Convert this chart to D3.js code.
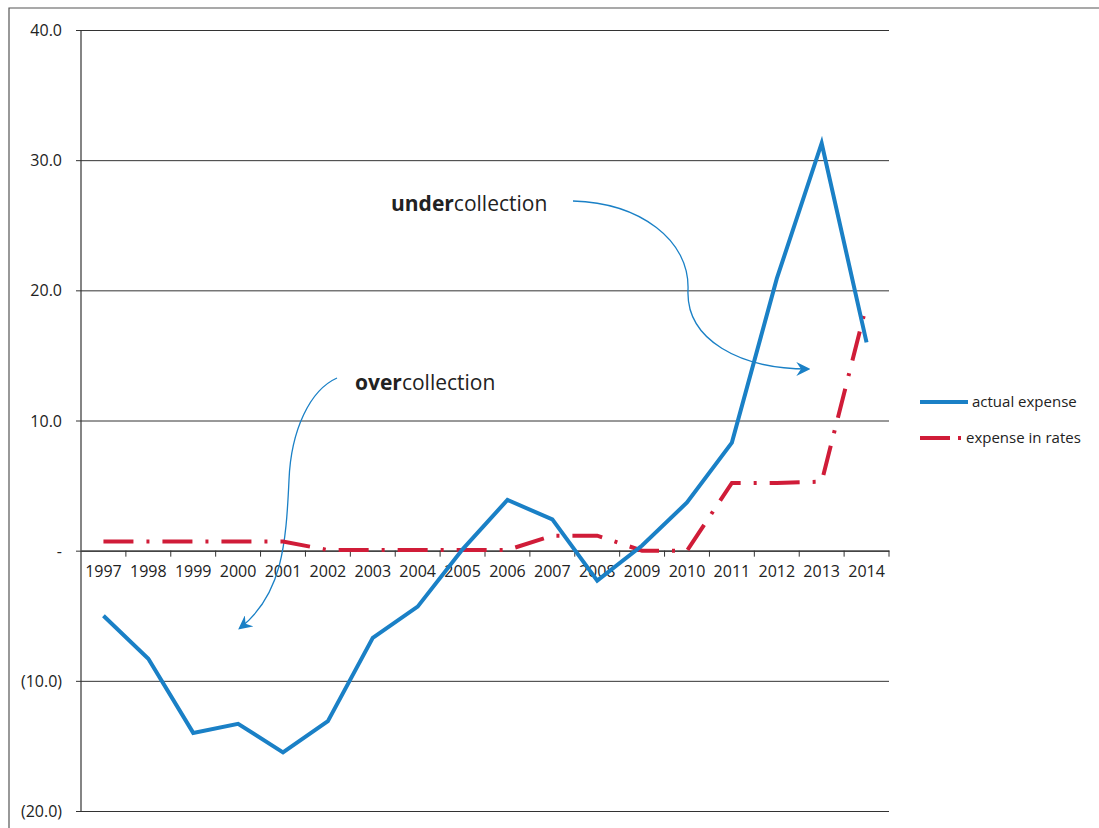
<!DOCTYPE html>
<html>
<head>
<meta charset="utf-8">
<script src="https://d3js.org/d3.v7.min.js"></script>
<style>
  body { margin: 0; background: #fff; }
  text { font-family: "Open Sans", "Liberation Sans", sans-serif; fill: #222; }
</style>
</head>
<body>
<svg id="chart" width="1099" height="828"></svg>
<script>
// data
var years = ["1997","1998","1999","2000","2001","2002","2003","2004","2005",
             "2006","2007","2008","2009","2010","2011","2012","2013","2014"];
var actualExpense = [-5.0, -8.3, -14.0, -13.3, -15.5, -13.1, -6.7, -4.3, 0.1,
                     3.9, 2.4, -2.3, 0.4, 3.7, 8.3, 20.9, 31.3, 16.0];
var expenseInRates = [0.7, 0.7, 0.7, 0.7, 0.7, 0.05, 0.05, 0.05, 0.05,
                      0.05, 1.15, 1.15, 0.0, 0.0, 5.2, 5.2, 5.3, 18.9];
var yTicks = [40, 30, 20, 10, 0, -10, -20];

var svg = d3.select("#chart");

var x = d3.scaleBand().domain(years).range([81, 889]);
var y = d3.scaleLinear().domain([-20, 40]).range([811, 30]);

// outer frame (scanned border)
svg.append("path")
  .attr("d", "M9,828 L9,8 L1099,8")
  .attr("fill", "none").attr("stroke", "#555").attr("stroke-width", 1.2);

// horizontal gridlines + y labels
var yAxis = d3.axisLeft(y).tickValues(yTicks).tickSize(-(889 - 81)).tickSizeOuter(0)
  .tickFormat(function(d) {
    if (d === 0) return "-";
    if (d < 0) return "(" + d3.format(".1f")(-d) + ")";
    return d3.format(".1f")(d);
  });
var gy = svg.append("g").attr("transform", "translate(81,0)").call(yAxis);
gy.select(".domain").remove();
gy.selectAll(".tick line").attr("stroke", "#333").attr("x1", -5);
gy.selectAll(".tick text").attr("x", -19).attr("dy", "0.35em")
  .style("font-size", "16px").attr("fill", "#222");

// vertical axis line
svg.append("line").attr("x1", 81).attr("x2", 81).attr("y1", y(40)).attr("y2", y(-20))
  .attr("stroke", "#333").attr("stroke-width", 1.2);

// zero axis with category ticks
var xAxis = d3.axisBottom(x).tickSize(0).tickSizeOuter(0);
var gx = svg.append("g").attr("transform", "translate(0," + y(0) + ")").call(xAxis);
gx.select(".domain").attr("stroke", "#333").attr("stroke-width", 1.2);
gx.selectAll(".tick text").attr("y", 21).attr("dy", "0.35em")
  .style("font-size", "16px").attr("fill", "#222");
gx.selectAll(".bnd").data(years.slice(1).concat(["end"])).enter().append("line")
  .attr("x1", function(d) { return d === "end" ? 889 : x(d); })
  .attr("x2", function(d) { return d === "end" ? 889 : x(d); })
  .attr("y1", 0).attr("y2", 6).attr("stroke", "#333");

var line = d3.line()
  .x(function(d, i) { return x(years[i]) + x.bandwidth() / 2; })
  .y(function(d) { return y(d); });

var blue = "#1a80c6", red = "#d01c38";

// annotation arrows
var defs = svg.append("defs");
defs.append("marker").attr("id", "arr").attr("viewBox", "0 0 12 12")
  .attr("refX", 10).attr("refY", 6).attr("markerWidth", 14).attr("markerHeight", 14)
  .attr("markerUnits", "userSpaceOnUse").attr("orient", "auto")
  .append("path").attr("d", "M0,0 L12,6 L0,12 L4,6 Z").attr("fill", blue);

svg.append("path")
  .attr("d", "M573,201 C640,203 690,240 688,290 C686,340 740,369 808,369")
  .attr("fill", "none").attr("stroke", blue).attr("stroke-width", 1.3)
  .attr("marker-end", "url(#arr)");
svg.append("path")
  .attr("d", "M337,378 C310,390 291,430 289,480 C286,545 282,595 240,628")
  .attr("fill", "none").attr("stroke", blue).attr("stroke-width", 1.3)
  .attr("marker-end", "url(#arr)");

// series
svg.append("path").datum(expenseInRates).attr("d", line)
  .attr("fill", "none").attr("stroke", red).attr("stroke-width", 4)
  .attr("stroke-dasharray", "30,13,3,13");
svg.append("path").datum(actualExpense).attr("d", line)
  .attr("fill", "none").attr("stroke", blue).attr("stroke-width", 4)
  .attr("stroke-linejoin", "miter");

// annotation text
var t1 = svg.append("text").attr("x", 391).attr("y", 211).style("font-size", "21px");
t1.append("tspan").style("font-weight", "bold").text("under");
t1.append("tspan").text("collection");
var t2 = svg.append("text").attr("x", 355).attr("y", 390).style("font-size", "21px");
t2.append("tspan").style("font-weight", "bold").text("over");
t2.append("tspan").text("collection");

// legend
var legend = [
  { name: "actual expense", color: blue, dash: null },
  { name: "expense in rates", color: red, dash: "30,8,3,8" }
];
var lg = svg.append("g").selectAll("g").data(legend).enter().append("g")
  .attr("transform", function(d, i) { return "translate(920," + (402 + i * 36) + ")"; });
lg.append("line").attr("x1", 0).attr("x2", function(d, i) { return i ? 42 : 48; })
  .attr("y1", 0).attr("y2", 0)
  .attr("stroke", function(d) { return d.color; }).attr("stroke-width", 4)
  .attr("stroke-dasharray", function(d) { return d.dash; });
lg.append("text").attr("x", function(d, i) { return i ? 46 : 52; }).attr("dy", "0.35em")
  .style("font-size", "15px").text(function(d) { return d.name; });
</script>
</body>
</html>
